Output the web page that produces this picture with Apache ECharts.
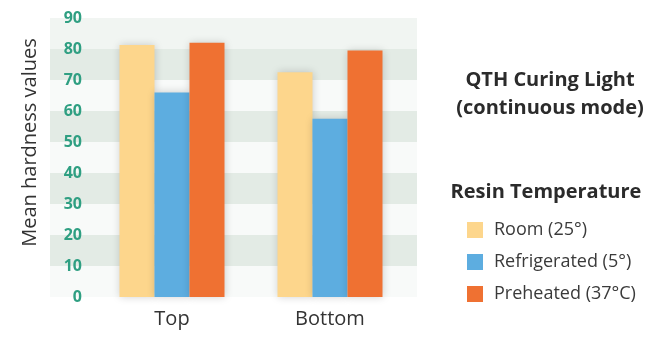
<!DOCTYPE html>
<html>
<head>
<meta charset="utf-8">
<script src="https://cdn.jsdelivr.net/npm/echarts@6/dist/echarts.min.js"></script>
<style>
	html, body { margin: 0; padding: 0; background: #ffffff; }
	#chart { width: 647px; height: 337px; }
</style>
</head>
<body>
<div id="chart"></div>
<script>
const categories = ["Top", "Bottom"];
const seriesNames = ["Room (25°)", "Refrigerated (5°)", "Preheated (37°C)"];
const roomValues = [81.3, 72.5];
const refrigeratedValues = [66, 57.5];
const preheatedValues = [82, 79.5];
const seriesColours = ["#fdd68c", "#5dade0", "#ef7132"];
// one entry per 10-unit band, bottom to top
const bandColours = ["#f8faf9", "#e3ebe5", "#f8faf9", "#e3ebe5", "#f8faf9", "#e3ebe5", "#f8faf9", "#e3ebe5", "#f1f5f2"];

const fontFamily = "'Open Sans', sans-serif";
const textColour = "#2b2b2b";
const tickColour = "#2f9f82";

function createChart(inputID) {
	const chartDom = document.getElementById(inputID);
	if (chartDom == null) return;
	const myChart = echarts.init(chartDom, null, { renderer: "canvas" });

	const valueLists = [roomValues, refrigeratedValues, preheatedValues];
	const option = {
		animation: false,
		backgroundColor: "#ffffff",
		textStyle: { fontFamily: fontFamily },
		title: [
			{
				text: "QTH Curing Light\n(continuous mode)",
				left: 545,
				top: 61,
				textAlign: "center",
				textStyle: { fontSize: 20, fontWeight: "bold", color: textColour, lineHeight: 28, fontFamily: fontFamily },
			},
			{
				text: "Resin Temperature",
				left: 541,
				top: 177,
				textAlign: "center",
				textStyle: { fontSize: 20, fontWeight: "bold", color: textColour, fontFamily: fontFamily },
			},
		],
		legend: {
			orient: "vertical",
			left: 462,
			top: 216,
			itemWidth: 16,
			itemHeight: 16,
			itemGap: 14,
			icon: "rect",
			data: seriesNames,
			textStyle: { fontSize: 18, color: "#3a3a3a", fontFamily: fontFamily, padding: [0, 0, 0, 6] },
		},
		grid: [
			// background band area
			{ left: 50, right: 230, top: 18, bottom: 40 },
			// bars
			{ left: 93, right: 238, top: 18, bottom: 40 },
		],
		xAxis: [
			{ gridIndex: 0, type: "category", data: categories, show: false },
			{
				gridIndex: 1,
				type: "category",
				data: categories,
				axisLine: { show: false },
				axisTick: { show: false },
				axisLabel: { fontSize: 20, color: "#333", margin: 12, fontFamily: fontFamily },
			},
		],
		yAxis: [
			{
				gridIndex: 0,
				type: "value",
				min: 0,
				max: 90,
				interval: 10,
				axisLine: { show: false },
				axisTick: { show: false },
				axisLabel: { show: false },
				splitLine: { show: false },
				splitArea: { show: true, areaStyle: { color: bandColours } },
			},
			{
				gridIndex: 1,
				type: "value",
				min: 0,
				max: 90,
				interval: 10,
				name: "Mean hardness values",
				nameLocation: "middle",
				nameGap: 53,
				nameTextStyle: { fontSize: 20, color: "#333", fontFamily: fontFamily, padding: [0, 0, 0, 30] },
				axisLine: { show: false },
				axisTick: { show: false },
				splitLine: { show: false },
				axisLabel: { fontSize: 16, fontWeight: "bold", color: tickColour, margin: 11, fontFamily: fontFamily },
			},
		],
		series: seriesNames.map((name, i) => ({
			name: name,
			type: "bar",
			xAxisIndex: 1,
			yAxisIndex: 1,
			data: valueLists[i],
			barWidth: 35,
			barGap: "0%",
			itemStyle: {
				color: seriesColours[i],
				shadowColor: "rgba(0,0,0,0.18)",
				shadowBlur: 8,
			},
		})),
	};
	myChart.setOption(option);
	return myChart;
}

createChart("chart");
</script>
</body>
</html>
